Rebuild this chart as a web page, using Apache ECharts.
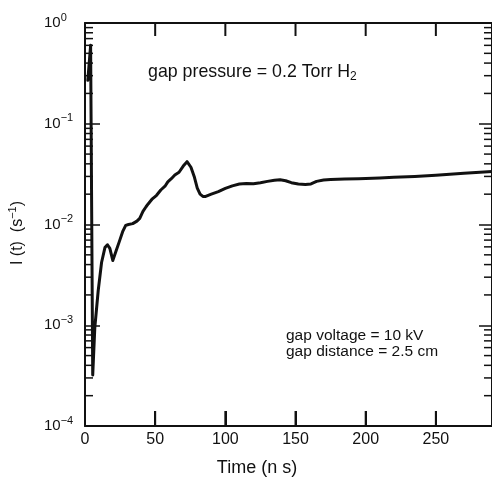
<!DOCTYPE html>
<html><head><meta charset="utf-8">
<script src="https://cdn.jsdelivr.net/npm/echarts@6/dist/echarts.min.js"></script>
<style>html,body{margin:0;padding:0;background:#fff}#c{width:492px;height:479px}</style>
</head><body><div id="c"></div>
<script>
// ---- data ----
const timeNs = [2, 4, 5.5, 7, 9.4, 11.8, 14.2, 16, 17.7, 19.8, 22, 24.5, 27, 29, 31, 34, 37, 39, 41.3, 43.5, 45, 48, 51, 54, 57, 59, 61.5, 64, 67, 70, 72.7, 74, 75.5, 77.8, 80, 82, 84, 86, 90, 95, 100, 105, 110, 115, 120, 125, 130, 135, 139, 143, 147, 152, 157, 161, 165, 170, 175, 185, 195, 210, 220, 235, 250, 270, 290];
const intensity = [0.27, 0.6, 3.2e-4, 9.5e-4, 2.2e-3, 4.2e-3, 5.9e-3, 6.3e-3, 5.8e-3, 4.4e-3, 5.4e-3, 6.8e-3, 8.6e-3, 9.8e-3, 1.0e-2, 1.02e-2, 1.08e-2, 1.15e-2, 1.35e-2, 1.5e-2, 1.6e-2, 1.8e-2, 1.95e-2, 2.2e-2, 2.4e-2, 2.65e-2, 2.85e-2, 3.1e-2, 3.3e-2, 3.8e-2, 4.2e-2, 4.1e-2, 3.7e-2, 3.0e-2, 2.3e-2, 2.0e-2, 1.9e-2, 1.9e-2, 2.0e-2, 2.12e-2, 2.28e-2, 2.42e-2, 2.52e-2, 2.55e-2, 2.54e-2, 2.6e-2, 2.68e-2, 2.75e-2, 2.78e-2, 2.72e-2, 2.6e-2, 2.52e-2, 2.5e-2, 2.53e-2, 2.68e-2, 2.76e-2, 2.8e-2, 2.83e-2, 2.85e-2, 2.9e-2, 2.94e-2, 3.0e-2, 3.09e-2, 3.22e-2, 3.35e-2];
const xTickValues = [0, 50, 100, 150, 200, 250];
const yDecadeExponents = [-4, -3, -2, -1, 0];
const xTitle = 'Time (n s)';
const yTitle = 'I (t)  (s{sup|\u22121})';
const noteTop = 'gap pressure = 0.2 Torr H{sub|2}';
const noteBottom = ['gap voltage = 10 kV', 'gap distance = 2.5 cm'];

const X_MIN = 0, X_MAX = 290;
const Y_MIN = Math.pow(10, yDecadeExponents[0]);
const Y_MAX = Math.pow(10, yDecadeExponents[yDecadeExponents.length - 1]);
const FONT = '"Liberation Sans", Arial, Helvetica, sans-serif';
const INK = '#111';

const curve = timeNs.map((t, i) => [t, intensity[i]]);
// frame tick marks: kind 0 = minor log tick on left/right, kind 1 = major time tick on bottom/top
const frameTicks = [];
for (let k = 0; k < yDecadeExponents.length - 1; k++) {
  for (let m = 2; m <= 9; m++) frameTicks.push([X_MIN, m * Math.pow(10, yDecadeExponents[k]), 0]);
}
xTickValues.filter(v => v > X_MIN).forEach(v => frameTicks.push([v, 0.01, 1]));

function yLabel(v) {
  const e = Math.round(Math.log10(v));
  return '{b|10}{s|' + (e < 0 ? '\u2212' + (-e) : '0') + '}';
}

const chart = echarts.init(document.getElementById('c'), null, {renderer: 'canvas'});
const axisLine = {show: true, onZero: false, lineStyle: {color: INK, width: 2}};
chart.setOption({
  animation: false,
  backgroundColor: '#fff',
  grid: {left: 85, top: 23, width: 409, height: 403, containLabel: false},
  xAxis: [{
    type: 'value', min: X_MIN, max: X_MAX, interval: 50, position: 'bottom',
    axisLine: axisLine, splitLine: {show: false},
    axisTick: {show: true, inside: true, length: 15, lineStyle: {color: INK, width: 2}},
    axisLabel: {color: INK, fontSize: 16, fontFamily: FONT, margin: 6, showMaxLabel: false,
      formatter: v => xTickValues.indexOf(v) >= 0 ? String(v) : ''}
  }, {
    type: 'value', min: X_MIN, max: X_MAX, interval: 50, position: 'top', show: true,
    axisLine: axisLine, splitLine: {show: false},
    axisTick: {show: false},
    axisLabel: {show: false}
  }],
  yAxis: [{
    type: 'log', logBase: 10, min: Y_MIN, max: Y_MAX, position: 'left',
    axisLine: axisLine, splitLine: {show: false},
    axisTick: {show: true, inside: true, length: 15, lineStyle: {color: INK, width: 1.5}},
    axisLabel: {align: 'left', margin: 41, color: INK, fontFamily: FONT, formatter: yLabel,
      rich: {b: {fontSize: 15, fontFamily: FONT, color: INK},
             s: {fontSize: 11, fontFamily: FONT, color: INK, padding: [0, 0, 11, 0]}}}
  }, {
    type: 'log', logBase: 10, min: Y_MIN, max: Y_MAX, position: 'right',
    axisLine: axisLine, splitLine: {show: false},
    axisTick: {show: true, inside: true, length: 13, lineStyle: {color: INK, width: 1.5}},
    axisLabel: {show: false}
  }],
  series: [{
    type: 'custom', xAxisIndex: 0, yAxisIndex: 0, silent: true, clip: false, z: 10,
    data: frameTicks, encode: {x: 0, y: 1},
    renderItem: function (params, api) {
      const kind = api.value(2);
      if (kind === 1) {
        const t = api.value(0);
        const b = api.coord([t, Y_MIN]);
        const tp = api.coord([t, Y_MAX]);
        return {type: 'group', children: [
          {type: 'rect', shape: {x: b[0] - 1, y: b[1] - 15, width: 2, height: 15}, style: {fill: INK}},
          {type: 'rect', shape: {x: tp[0] - 1, y: tp[1], width: 2, height: 13}, style: {fill: INK}}
        ]};
      }
      const v = api.value(1);
      const l = api.coord([X_MIN, v]);
      const r = api.coord([X_MAX, v]);
      return {type: 'group', children: [
        {type: 'line', shape: {x1: l[0], y1: l[1], x2: l[0] + 8, y2: l[1]}, style: {stroke: INK, lineWidth: 1.5}},
        {type: 'line', shape: {x1: r[0] - 8, y1: r[1], x2: r[0], y2: r[1]}, style: {stroke: INK, lineWidth: 1.5}}
      ]};
    }
  }, {
    type: 'line', xAxisIndex: 0, yAxisIndex: 0, data: curve,
    showSymbol: false, smooth: false,
    lineStyle: {color: INK, width: 3, join: 'round', cap: 'round'}
  }],
  graphic: [
    {type: 'text', x: 148, y: 72, style: {text: noteTop, fill: INK, fontSize: 17.8, fontFamily: FONT,
      align: 'left', verticalAlign: 'middle',
      rich: {sub: {fontSize: 12, fontFamily: FONT, fill: INK, padding: [10, 0, 0, 0]}}}},
    {type: 'text', x: 286, y: 336, style: {text: noteBottom[0], fill: INK, fontSize: 15.5, fontFamily: FONT, align: 'left', verticalAlign: 'middle'}},
    {type: 'text', x: 286, y: 352, style: {text: noteBottom[1], fill: INK, fontSize: 15.5, fontFamily: FONT, align: 'left', verticalAlign: 'middle'}},
    {type: 'text', x: 257, y: 468, style: {text: xTitle, fill: INK, fontSize: 18, fontFamily: FONT, align: 'center', verticalAlign: 'middle'}},
    {type: 'text', x: 18, y: 233, rotation: Math.PI / 2, style: {text: yTitle, fill: INK, fontSize: 16, fontFamily: FONT,
      align: 'center', verticalAlign: 'middle',
      rich: {sup: {fontSize: 11, fontFamily: FONT, fill: INK, padding: [0, 0, 10, 0]}}}}
  ]
});
</script>
</body></html>
